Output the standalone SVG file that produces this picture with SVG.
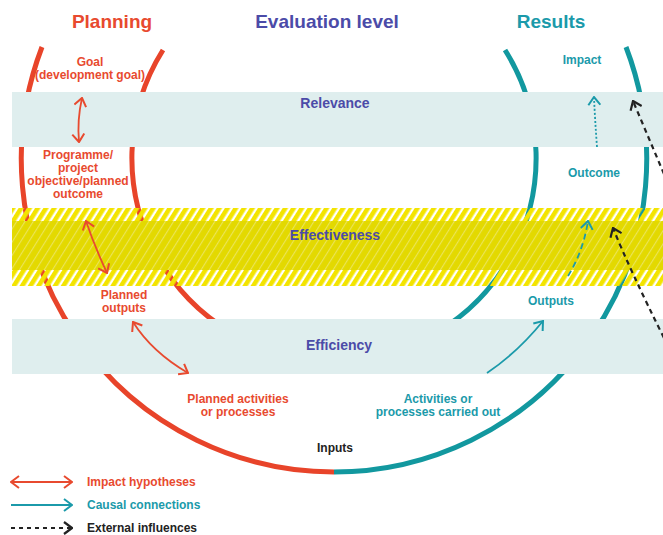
<svg xmlns="http://www.w3.org/2000/svg" width="663" height="535" viewBox="0 0 663 535">
<style>
.t{font-family:"Liberation Sans",Arial,sans-serif;font-weight:bold;font-size:12px;text-anchor:middle}
.title{font-size:19px}
.bl{font-size:14px}
.lg{text-anchor:start}
.red{fill:#E84A2F}.teal{fill:#1B9AAA}.blue{fill:#4B4BA8}.blk{fill:#222}
.arc{fill:none;stroke-width:5}
.ra{stroke:#E8442A}.ta{stroke:#12989F}
.band{fill:#DFEEEE}
.c{fill:none;stroke-width:1.8}
.cr{stroke:#E84A2F}.ct{stroke:#1B9AAA}.ck{stroke:#222;stroke-width:2.2}
</style>
<defs>
<pattern id="hatch" width="7" height="20" patternUnits="userSpaceOnUse" patternTransform="rotate(32)">
<rect width="4.6" height="20" fill="#F3E400"/>
</pattern>
<pattern id="streak" width="7" height="20" patternUnits="userSpaceOnUse" patternTransform="rotate(32)">
<rect x="5.2" width="0.9" height="20" fill="#F4F2C8" opacity="0.55"/>
</pattern>
<marker id="mr" viewBox="0 0 10 14" refX="9" refY="7" markerWidth="10" markerHeight="14" markerUnits="userSpaceOnUse" orient="auto-start-reverse"><path d="M1,1 L9,7 L1,13" fill="none" stroke="#E84A2F" stroke-width="2"/></marker>
<marker id="mt" viewBox="0 0 10 14" refX="9" refY="7" markerWidth="10" markerHeight="14" markerUnits="userSpaceOnUse" orient="auto-start-reverse"><path d="M1,1 L9,7 L1,13" fill="none" stroke="#1B9AAA" stroke-width="2"/></marker>
<marker id="mk" viewBox="0 0 10 14" refX="9" refY="7" markerWidth="10" markerHeight="14" markerUnits="userSpaceOnUse" orient="auto-start-reverse"><path d="M1,1 L9,7 L1,13" fill="none" stroke="#222" stroke-width="2.2"/></marker>
</defs>

<g id="arcs">
<path class="arc ra" d="M 42 47 A 313 313 0 0 0 334 472"/>
<path class="arc ta" d="M 334 472 A 313 313 0 0 0 626 47"/>
<path class="arc ra" d="M 163 50 A 203 203 0 0 0 334 361"/>
<path class="arc ta" d="M 334 361 A 203 203 0 0 0 505 50"/>
</g>

<g id="relevance">
<rect class="band" x="12" y="92" width="651" height="55"/>
<text class="t bl blue" x="335" y="108">Relevance</text>
</g>
<g id="effectiveness">
<rect x="12" y="208" width="651" height="78" fill="url(#hatch)"/>
<rect x="12" y="221" width="651" height="49" fill="#E3D900"/>
<rect x="12" y="221" width="651" height="49" fill="url(#streak)"/>
<text class="t bl blue" x="335" y="240">Effectiveness</text>
</g>
<g id="efficiency">
<rect class="band" x="12" y="319" width="651" height="55"/>
<text class="t bl blue" x="339" y="350">Efficiency</text>
</g>

<g id="titles">
<text class="t title red" x="112" y="28">Planning</text>
<text class="t title blue" x="327" y="28">Evaluation level</text>
<text class="t title teal" x="551" y="28">Results</text>
</g>

<g id="connectors">
<path class="c cr" d="M 82 98 Q 77 120 79 142" marker-start="url(#mr)" marker-end="url(#mr)"/>
<path class="c cr" d="M 86 221 Q 94 245 107 273" marker-start="url(#mr)" marker-end="url(#mr)"/>
<path class="c cr" d="M 133 322 Q 152 352 188 373" marker-start="url(#mr)" marker-end="url(#mr)"/>
<path class="c ct" d="M 487 373 Q 518 352 543 321" marker-end="url(#mt)"/>
<path class="c ct" d="M 568 276 Q 583 252 588 221" stroke-dasharray="6 4" marker-end="url(#mt)"/>
<path class="c ct" d="M 597 147 Q 595 120 594 97" stroke-dasharray="2 2" marker-end="url(#mt)"/>
<path class="c ck" d="M 664 174 L 633 101" stroke-dasharray="5 4" marker-end="url(#mk)"/>
<path class="c ck" d="M 664 338 Q 630 270 613 228" stroke-dasharray="5 4" marker-end="url(#mk)"/>
</g>

<g id="goal"><text class="t red" x="90" y="66">Goal</text><text class="t red" x="90" y="79">(development goal)</text></g>
<g id="programme-objective"><text class="t red" x="78" y="159">Programme/</text><text class="t red" x="78" y="172">project</text><text class="t red" x="78" y="185">objective/planned</text><text class="t red" x="78" y="198">outcome</text></g>
<g id="planned-outputs"><text class="t red" x="124" y="299">Planned</text><text class="t red" x="124" y="312">outputs</text></g>
<g id="planned-activities"><text class="t red" x="238" y="403">Planned activities</text><text class="t red" x="238" y="416">or processes</text></g>
<g id="inputs"><text class="t blk" x="335" y="452">Inputs</text></g>
<g id="activities-carried-out"><text class="t teal" x="438" y="403">Activities or</text><text class="t teal" x="438" y="416">processes carried out</text></g>
<g id="outputs"><text class="t teal" x="551" y="305">Outputs</text></g>
<g id="outcome"><text class="t teal" x="594" y="177">Outcome</text></g>
<g id="impact"><text class="t teal" x="582" y="64">Impact</text></g>

<g id="legend">
<path class="c cr" d="M 11 482 L 72 482" marker-start="url(#mr)" marker-end="url(#mr)"/>
<text class="t lg red" x="87" y="486">Impact hypotheses</text>
<path class="c ct" d="M 11 505 L 72 505" marker-end="url(#mt)"/>
<text class="t lg teal" x="87" y="509">Causal connections</text>
<path class="c ck" d="M 11 528 L 72 528" stroke-dasharray="4 4" marker-end="url(#mk)"/>
<text class="t lg blk" x="87" y="532">External influences</text>
</g>
</svg>
